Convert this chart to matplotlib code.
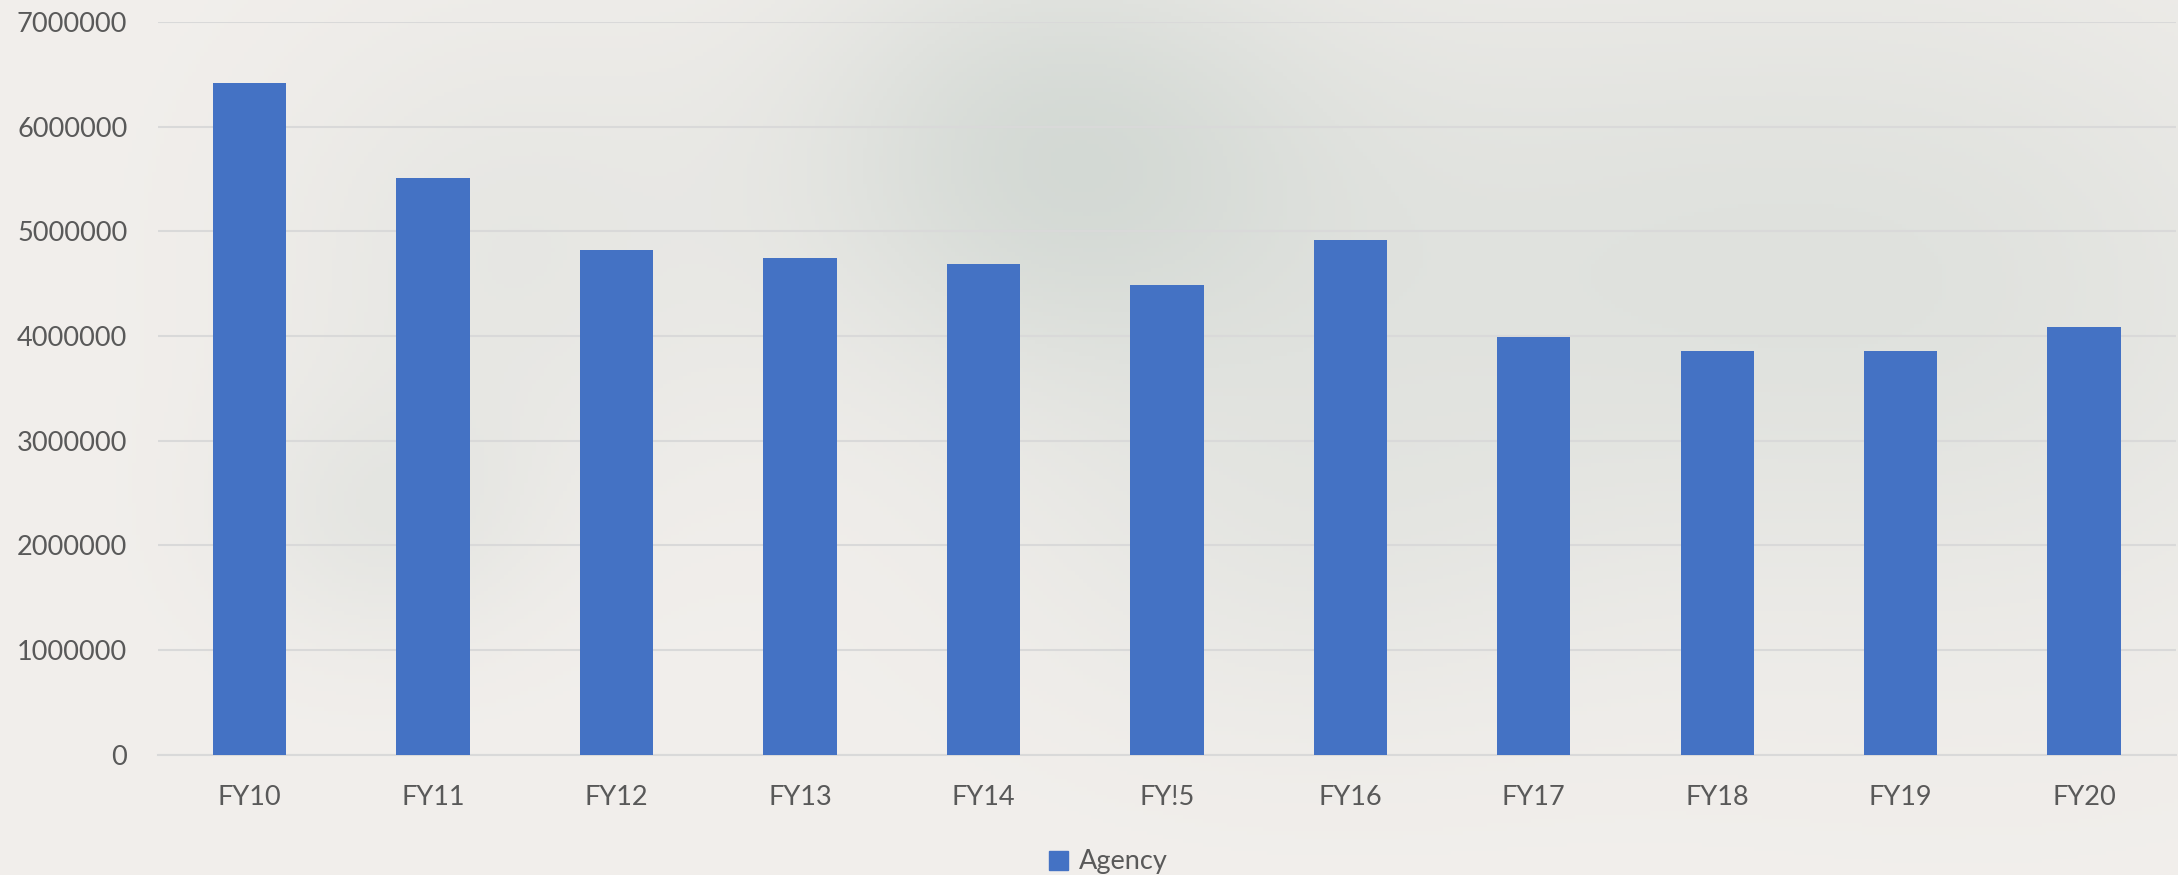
import numpy as np
import matplotlib.pyplot as plt
from matplotlib.patches import Patch

years = ["FY10", "FY11", "FY12", "FY13", "FY14", "FY!5", "FY16", "FY17", "FY18", "FY19", "FY20"]
agency = [6417000, 5507000, 4822000, 4742000, 4690000, 4490000, 4918000, 3993000, 3855000, 3851000, 4085000]

plt.rcParams['font.family'] = ['Lato', 'DejaVu Sans']

fig = plt.figure(figsize=(21.78, 8.75), dpi=100)
fig.patch.set_facecolor('#f2efec')

# soft watercolour-ish backdrop
bg = fig.add_axes([0, 0, 1, 1], zorder=-10)
yy, xx = np.mgrid[0:875:4, 0:2178:4]
base = np.array([0xf2, 0xef, 0xec]) / 255.0
shade = np.zeros(xx.shape)
blobs = [(1050, 150, 260, 220, 0.16), (1500, 250, 500, 300, 0.09), (2000, 300, 400, 350, 0.08),
         (500, 250, 250, 250, 0.07), (380, 520, 160, 130, 0.07), (1300, 550, 300, 200, 0.05)]
for cx, cy, sx, sy, a in blobs:
    shade += a * np.exp(-(((xx - cx) / sx) ** 2 + ((yy - cy) / sy) ** 2))
shade = np.clip(shade, 0, 0.2)
tint = np.array([0.80, 0.83, 0.81])
img = base[None, None, :] * (1 - shade[..., None]) + tint[None, None, :] * shade[..., None] * 0 + base * 0
img = base[None, None, :] - shade[..., None] * (base - tint)[None, None, :] * 4
bg.imshow(np.clip(img, 0, 1), extent=[0, 1, 0, 1], aspect='auto', origin='upper')
bg.axis('off')

ax = fig.add_axes([0.0725, 0.1377, 0.9265, 0.8373])
ax.set_facecolor('none')
x = np.arange(len(years))
ax.bar(x, agency, width=0.4, color='#4472c4', zorder=3)

ax.set_xlim(-0.5, len(years) - 0.5)
ax.set_ylim(0, 7000000)
ax.set_yticks(np.arange(0, 7000001, 1000000))
ax.set_yticklabels([str(v) for v in range(0, 7000001, 1000000)])
ax.set_xticks(x)
ax.set_xticklabels(years)
ax.grid(axis='y', color='#d9d9d9', linewidth=1.5, zorder=0)
ax.tick_params(axis='both', length=0, labelsize=19.5, labelcolor='#595959')
ax.tick_params(axis='y', pad=22)
ax.tick_params(axis='x', pad=22)
for s in ['top', 'right', 'left']:
    ax.spines[s].set_visible(False)
ax.spines['bottom'].set_color('#d9d9d9')
ax.spines['bottom'].set_linewidth(1.5)

fig.legend(handles=[Patch(color='#4472c4', label='Agency')], loc='center',
           bbox_to_anchor=(0.509, 1 - 862 / 875), frameon=False, fontsize=19.5,
           labelcolor='#595959', handlelength=0.7, handleheight=0.7, handletextpad=0.4)

fig.savefig('out.png', dpi=100, facecolor=fig.get_facecolor())
